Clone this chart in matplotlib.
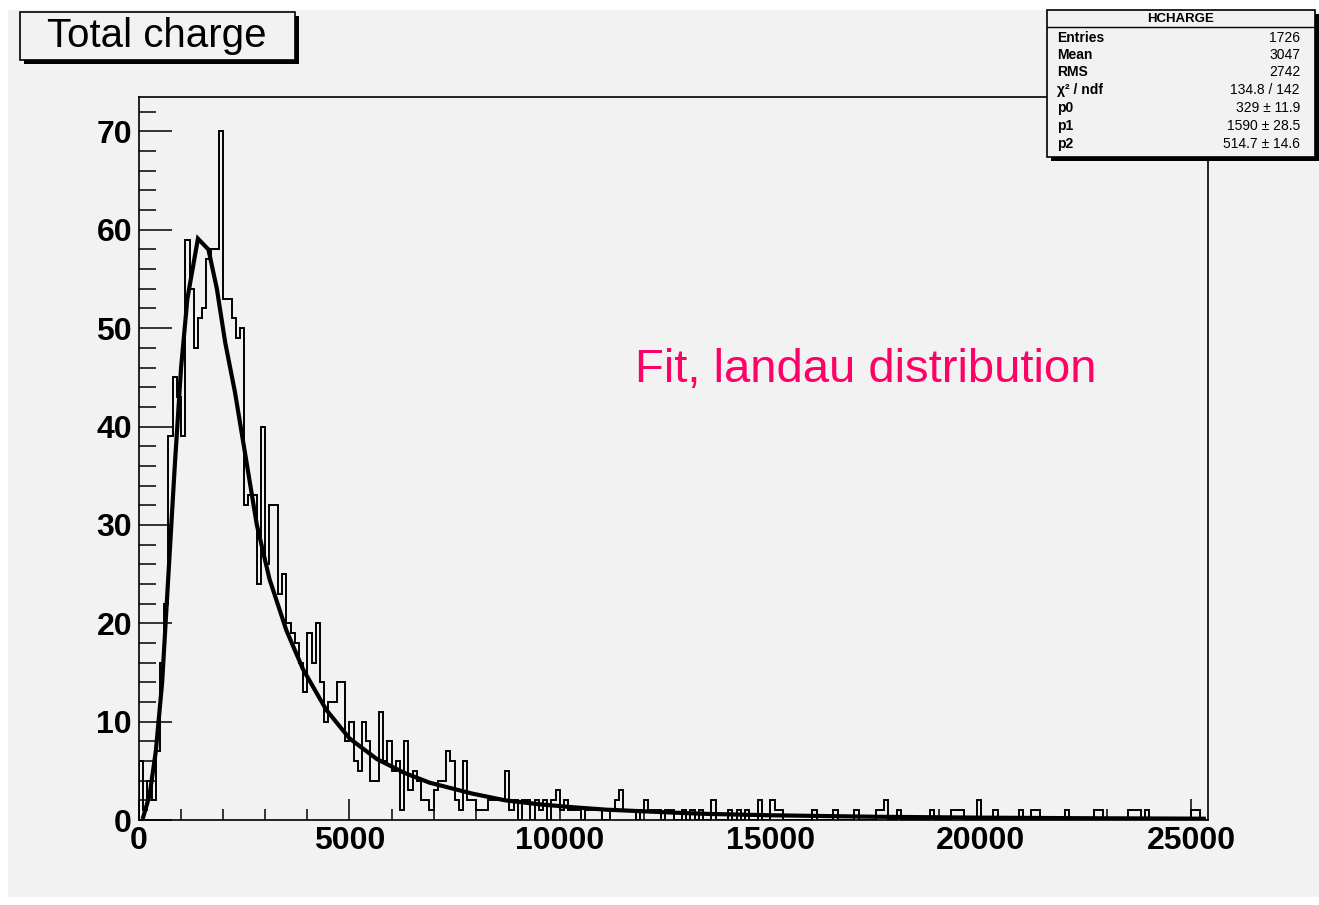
import numpy as np
import matplotlib
matplotlib.use("Agg")
import matplotlib.pyplot as plt
from matplotlib.patches import Rectangle
from matplotlib.lines import Line2D
from matplotlib.ticker import MultipleLocator, FixedLocator

plt.rcParams['font.family'] = ['Liberation Sans', 'DejaVu Sans']

# ---------------- data ----------------
bin_width = 100
n_bins = 254

counts_rise = [6, 1, 4, 2, 7, 16, 22, 39, 45, 43, 39, 59, 54, 48, 51, 52, 57, 58, 58, 70]
counts_fall = [53, 53, 51, 49, 50, 32, 33, 33, 24, 40, 26, 32, 32, 23, 25]
counts_slope = [20, 19, 18, 16, 13, 19, 16, 20, 14, 10, 12, 12, 14, 14, 8, 10, 6, 5, 10, 8,
                4, 4, 11, 6, 8, 5, 6, 1, 8, 3, 5, 4, 2, 2, 1, 3, 4, 4, 7, 6]
counts_tail = [2, 1, 6, 2, 2, 1, 1, 1, 2, 2, 2, 2, 5, 1, 2, 0, 2, 2, 0, 2,
               1, 2, 0, 2, 3, 1, 2, 1, 1, 1, 0, 1, 1, 1, 1, 0, 0, 1, 2, 3,
               1, 1, 1, 0, 1, 2, 1, 1, 1, 0, 1, 1, 0, 0, 1, 0, 1, 0, 1, 0, 0]
far_tail_bins = [136, 140, 142, 144, 147, 150, 151, 152, 160, 165, 170, 175, 176, 177, 180,
                 188, 193, 194, 195, 199, 203, 209, 212, 213, 220, 227, 228, 235, 236, 237,
                 239, 250, 251]
far_tail_counts = [2, 1, 1, 1, 2, 2, 1, 1, 1, 1, 1, 1, 1, 2, 1,
                   1, 1, 1, 1, 2, 1, 1, 1, 1, 1, 1, 1, 1, 1, 1,
                   1, 1, 1]

fit_x = [100, 250, 400, 550, 700, 850, 1000, 1150, 1400, 1650, 1850, 2050, 2280, 2500,
         2800, 3100, 3500, 3900, 4450, 5000, 5650, 6300, 6900, 7900, 8700, 9500, 10300,
         11100, 11900, 12700, 13500, 15000, 17500, 20000, 22500, 25000, 25300]
fit_y = [0.3, 2.5, 7.0, 14.0, 25.0, 36.0, 46.0, 53.0, 59.1, 58.0, 54.0, 48.5, 43.5, 37.8,
         30.0, 24.5, 19.3, 15.3, 11.2, 8.3, 6.2, 4.8, 3.8, 2.7, 2.0, 1.6, 1.3,
         1.05, 0.9, 0.75, 0.62, 0.48, 0.33, 0.24, 0.18, 0.14, 0.13]

x_ticks = [0, 5000, 10000, 15000, 20000, 25000]
y_ticks = [0, 10, 20, 30, 40, 50, 60, 70]

title_text = "Total charge"
note_text = "Fit, landau distribution"
stat_title = "HCHARGE"
stat_labels = ["Entries", "Mean", "RMS", "\u03c7\u00b2 / ndf", "p0", "p1", "p2"]
stat_values = ["1726", "3047", "2742", "134.8 / 142", "329 \u00b1 11.9",
               "1590 \u00b1 28.5", "514.7 \u00b1 14.6"]

# ---------------- assemble ----------------
counts = np.zeros(n_bins)
main = counts_rise + counts_fall + counts_slope + counts_tail
counts[:len(main)] = main
counts[far_tail_bins] = far_tail_counts
edges = np.arange(n_bins + 1) * bin_width

# ---------------- figure ----------------
W, H, DPI = 1319, 905, 100
fig = plt.figure(figsize=(W / DPI, H / DPI), dpi=DPI, facecolor='white')


def fx(px):
    return px / W


def fy(py):
    return 1 - py / H


BG = '#f2f2f2'
fig.add_artist(Rectangle((fx(8), fy(897)), fx(1319 - 8), (897 - 10) / H,
                         transform=fig.transFigure, facecolor=BG, edgecolor='none',
                         zorder=-10))

ax = fig.add_axes([fx(139), fy(820), (1208 - 139) / W, (820 - 97) / H])
ax.set_facecolor(BG)
ax.stairs(counts, edges, color='black', lw=1.4, baseline=0)
ax.plot(fit_x, fit_y, color='black', lw=3.0, solid_joinstyle='miter')

ax.set_xlim(0, n_bins * bin_width)
ax.set_ylim(0, 73.5)

for s in ax.spines.values():
    s.set_linewidth(1.2)
    s.set_color('black')

ax.xaxis.set_major_locator(FixedLocator(x_ticks))
ax.xaxis.set_minor_locator(MultipleLocator(1000))
ax.yaxis.set_major_locator(FixedLocator(y_ticks))
ax.yaxis.set_minor_locator(MultipleLocator(2))
ax.set_xticklabels([str(v) for v in x_ticks])
ax.set_yticklabels([str(v) for v in y_ticks])

ax.tick_params(axis='x', which='major', direction='in', length=15, width=1.1, pad=4,
               labelsize=23, top=False)
ax.tick_params(axis='x', which='minor', direction='in', length=8, width=1.1, top=False)
ax.tick_params(axis='y', which='major', direction='in', length=24, width=1.1, pad=5,
               labelsize=23, right=False)
ax.tick_params(axis='y', which='minor', direction='in', length=12, width=1.1, right=False)
for lab in ax.get_xticklabels() + ax.get_yticklabels():
    lab.set_fontweight('bold')

# ---------------- annotation ----------------
fig.text(fx(635), fy(382), note_text, color='#ff0066', fontsize=34,
         ha='left', va='baseline')

# ---------------- title box ----------------
fig.add_artist(Rectangle((fx(24), fy(64)), (295 - 20) / W, (60 - 12) / H,
                         transform=fig.transFigure, facecolor='black',
                         edgecolor='none', zorder=5))
fig.add_artist(Rectangle((fx(20), fy(60)), (295 - 20) / W, (60 - 12) / H,
                         transform=fig.transFigure, facecolor=BG,
                         edgecolor='black', lw=1.2, zorder=6))
fig.text(fx(157), fy(36), title_text, fontsize=29, ha='center', va='center',
         zorder=7)

# ---------------- stats box ----------------
bx0, by0, bx1, by1 = 1047, 10, 1315, 157
fig.add_artist(Rectangle((fx(bx0 + 4), fy(by1 + 4)), (bx1 - bx0) / W, (by1 - by0) / H,
                         transform=fig.transFigure, facecolor='black',
                         edgecolor='none', zorder=5))
fig.add_artist(Rectangle((fx(bx0), fy(by1)), (bx1 - bx0) / W, (by1 - by0) / H,
                         transform=fig.transFigure, facecolor=BG,
                         edgecolor='black', lw=1.2, zorder=6))
fig.add_artist(Line2D([fx(bx0), fx(bx1)], [fy(27), fy(27)], transform=fig.transFigure,
                      color='black', lw=1.0, zorder=7))
fig.text(fx(1181), fy(18.5), stat_title, fontsize=9.5, fontweight='bold',
         ha='center', va='center', zorder=8)
row_y = [38, 55, 72, 90, 108, 126, 144]
for yy, lab, val in zip(row_y, stat_labels, stat_values):
    fig.text(fx(1057), fy(yy), lab, fontsize=10, fontweight='bold',
             ha='left', va='center', zorder=8)
    fig.text(fx(1300), fy(yy), val, fontsize=10, ha='right', va='center', zorder=8)

fig.savefig('out.png', dpi=DPI, facecolor='white')
